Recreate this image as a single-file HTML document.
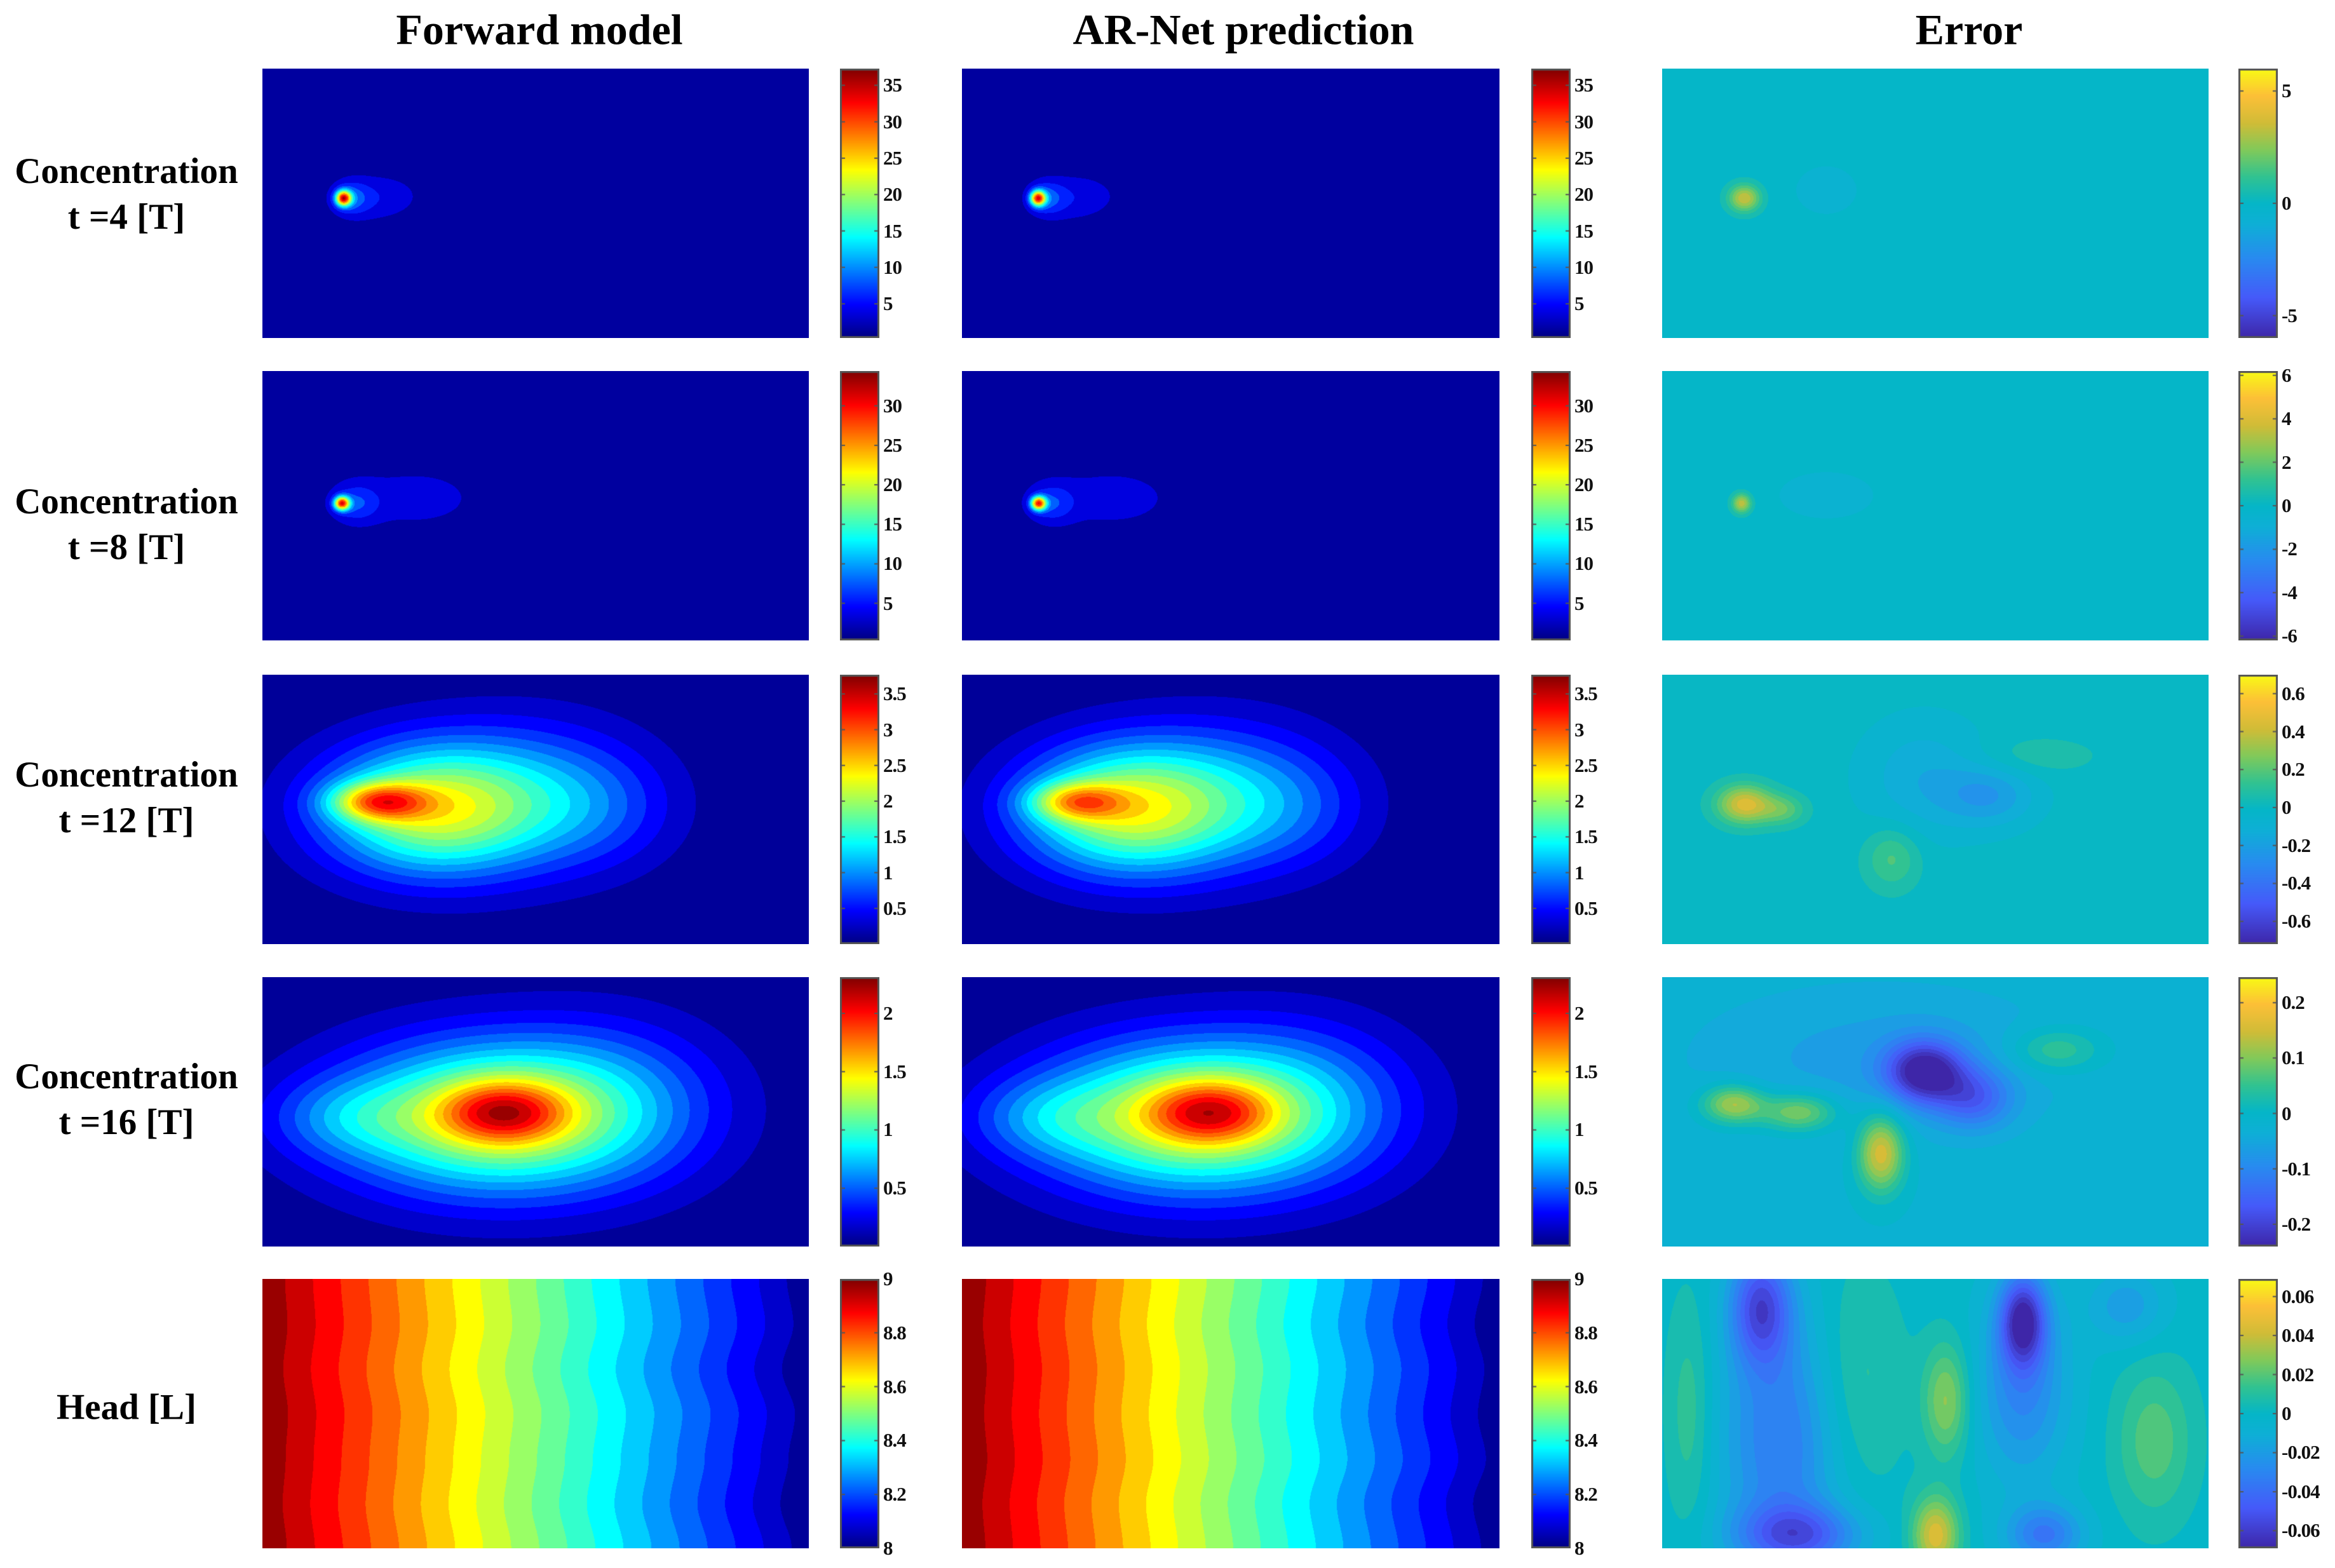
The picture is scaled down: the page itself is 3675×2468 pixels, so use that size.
<!DOCTYPE html>
<html><head><meta charset="utf-8">
<style>
html,body{margin:0;padding:0;background:#fff;}
#fig{position:relative;width:3675px;height:2468px;overflow:hidden;background:#fff;font-family:"Liberation Serif",serif;}
.title{position:absolute;font-weight:bold;font-size:68px;transform:translate(-50%,-50%);white-space:nowrap;color:#000;}
.rowlab{position:absolute;font-weight:bold;font-size:57px;transform:translate(-50%,-50%);white-space:nowrap;color:#000;text-align:center;}
canvas{position:absolute;}
.tick{position:absolute;font-size:31px;font-weight:bold;color:#111;transform:translateY(-50%);white-space:nowrap;letter-spacing:-1px;}
</style></head>
<body>
<div id="fig">
<div class="title" style="left:849px;top:47px">Forward model</div>
<div class="title" style="left:1957px;top:47px">AR-Net prediction</div>
<div class="title" style="left:3099px;top:47px">Error</div>
<div class="rowlab" style="left:199px;top:306px;line-height:72px">Concentration<br>t =4 [T]</div>
<div class="rowlab" style="left:199px;top:826px;line-height:72px">Concentration<br>t =8 [T]</div>
<div class="rowlab" style="left:199px;top:1256px;line-height:72px">Concentration<br>t =12 [T]</div>
<div class="rowlab" style="left:199px;top:1731px;line-height:72px">Concentration<br>t =16 [T]</div>
<div class="rowlab" style="left:199px;top:2215px">Head [L]</div>
</div>
<script>
// ---- data: blobs [x, y, sx, sy, amplitude] in normalized domain ----
const fwd4 = [[0.148,0.48,0.01,0.02,28],[0.16,0.48,0.025,0.045,6],[0.2,0.48,0.05,0.07,3],[0.25,0.47,0.05,0.06,1.5]];
const pred4 = [[0.141,0.48,0.01,0.02,27],[0.155,0.48,0.025,0.045,6],[0.2,0.48,0.05,0.07,3],[0.25,0.47,0.05,0.06,1.5]];
const err4 = [[0.15,0.48,0.02,0.035,3.5],[0.3,0.45,0.05,0.08,-0.5]];
const fwd8 = [[0.145,0.49,0.01,0.018,26],[0.17,0.49,0.03,0.05,5],[0.24,0.47,0.1,0.1,2.2],[0.33,0.47,0.08,0.09,1.2]];
const pred8 = [[0.142,0.49,0.01,0.018,25],[0.165,0.49,0.03,0.05,5],[0.24,0.47,0.1,0.1,2.2],[0.33,0.47,0.08,0.09,1.2]];
const err8 = [[0.145,0.49,0.012,0.025,3.5],[0.3,0.46,0.08,0.08,-0.5]];
const fwd12 = [[0.21,0.47,0.06,0.05,1.6],[0.3,0.5,0.14,0.17,2.0],[0.5,0.45,0.15,0.2,0.8],[0.62,0.5,0.1,0.15,0.3]];
const pred12 = [[0.21,0.47,0.06,0.05,1.3],[0.3,0.5,0.14,0.17,2.0],[0.5,0.45,0.15,0.2,0.8],[0.62,0.5,0.1,0.15,0.3]];
const err12 = [[0.15,0.48,0.035,0.05,0.45],[0.22,0.5,0.03,0.04,0.2],[0.48,0.38,0.08,0.15,-0.15],[0.6,0.45,0.06,0.08,-0.2],[0.42,0.68,0.035,0.08,0.18],[0.68,0.3,0.08,0.05,0.08]];
const fwd16 = [[0.44,0.5,0.08,0.08,0.8],[0.42,0.52,0.2,0.2,1.35],[0.65,0.45,0.15,0.22,0.3],[0.15,0.52,0.1,0.1,0.3]];
const pred16 = [[0.46,0.5,0.08,0.08,0.75],[0.42,0.52,0.2,0.2,1.35],[0.65,0.45,0.15,0.22,0.3],[0.15,0.52,0.1,0.1,0.3]];
const err16 = [[0.13,0.47,0.04,0.05,0.15],[0.25,0.5,0.05,0.05,0.13],[0.4,0.65,0.03,0.1,0.18],[0.48,0.35,0.05,0.08,-0.22],[0.57,0.45,0.05,0.08,-0.12],[0.72,0.27,0.06,0.06,0.08],[0.4,0.3,0.25,0.2,-0.05]];
const errHead = [[0.18,0.1,0.04,0.15,-0.05],[0.66,0.15,0.03,0.12,-0.06],[0.66,0.4,0.06,0.25,-0.03],[0.35,0.4,0.06,0.3,0.015],[0.52,0.45,0.03,0.15,0.03],[0.5,0.95,0.03,0.1,0.045],[0.22,0.6,0.08,0.35,-0.035],[0.9,0.6,0.05,0.2,0.02],[0.25,0.95,0.08,0.08,-0.04],[0.7,0.95,0.05,0.08,-0.035],[0.05,0.5,0.03,0.3,0.015],[0.85,0.1,0.05,0.1,-0.02]];
const headWiggleFwd = [0.0,0.008,-0.006,0.01,0.002,-0.008,0.006];
const headWigglePred = [0.006,-0.004,0.008,0.0,0.01,-0.006,0.004];
// ---- colorbar ranges & tick labels ----
const rangeRows = [[0.3,37.3],[0.3,34.4],[0.0,3.77],[0.0,2.31],[8,9]];
const errRangeRows = [[-6,6],[-6.2,6.2],[-0.72,0.70],[-0.24,0.246],[-0.069,0.069]];
const tickRows = [[5,10,15,20,25,30,35],[5,10,15,20,25,30],[0.5,1,1.5,2,2.5,3,3.5],[0.5,1,1.5,2],[8,8.2,8.4,8.6,8.8,9]];
const errTickRows = [[-5,0,5],[-6,-4,-2,0,2,4,6],[-0.6,-0.4,-0.2,0,0.2,0.4,0.6],[-0.2,-0.1,0,0.1,0.2],[-0.06,-0.04,-0.02,0,0.02,0.04,0.06]];

// ---- layout ----
const colX=[413,1514,2616], panelW=[860,846,860];
const cbX=[1322,2410,3523], cbW=62;
const rowY=[108,584,1062,1538,2013], panelH=424;

function jet(t){t=Math.max(0,Math.min(1,t));
 const f=(a)=>Math.max(0,Math.min(1,1.5-Math.abs(4*t-a)));
 return [f(3)*255,f(2)*255,f(1)*255];}
const parStops=[[0,[62,38,168]],[0.15,[70,90,250]],[0.3,[40,140,240]],[0.42,[15,175,215]],[0.5,[5,182,200]],[0.6,[50,195,145]],[0.7,[130,202,90]],[0.8,[210,188,55]],[0.9,[253,192,56]],[1,[249,251,21]]];
function parula(t){t=Math.max(0,Math.min(1,t));
 for(let i=1;i<parStops.length;i++){if(t<=parStops[i][0]){const a=parStops[i-1],b=parStops[i];const u=(t-a[0])/(b[0]-a[0]);return a[1].map((v,k)=>v+(b[1][k]-v)*u);}}
 return parStops[parStops.length-1][1];}
function blobField(blobs,base){return (x,y)=>{let v=base;for(const b of blobs){const dx=(x-b[0])/b[2],dy=(y-b[1])/b[3];v+=b[4]*Math.exp(-0.5*(dx*dx+dy*dy));}return v;};}
function headField(w){return (x,y)=>{const p=y*(w.length-1),i=Math.min(w.length-2,Math.floor(p)),u=p-i;const s=u*u*(3-2*u);const wig=w[i]*(1-s)+w[i+1]*s;return 9.0-(x*0.98+0.01)+wig*(0.5+x);};}
const fig=document.getElementById('fig');
function drawPanel(field,range,cmap,left,top,w,nLev,name,zeroCentered){
 const c=document.createElement('canvas');c.width=w;c.height=panelH;
 c.style.left=left+'px';c.style.top=top+'px';
 
 
 const ctx=c.getContext('2d');const im=ctx.createImageData(w,panelH);
 const span=range[1]-range[0];
 const z=(0-range[0])/span;
 for(let j=0;j<panelH;j++)for(let i=0;i<w;i++){
  let t=(field(i/w,j/panelH)-range[0])/span;
  t=Math.max(0,Math.min(0.9999,t));
  if(zeroCentered){const q=Math.round((t-z)*nLev);t=z+q/nLev;}
  else t=(Math.floor(t*nLev)+0.5)/nLev;
  const col=cmap(t);const k=(j*w+i)*4;im.data[k]=col[0];im.data[k+1]=col[1];im.data[k+2]=col[2];im.data[k+3]=255;}
 ctx.putImageData(im,0,0);fig.appendChild(c);}
function drawColorbar(range,ticks,cmap,left,top,name){
 const c=document.createElement('canvas');c.width=cbW;c.height=panelH;
 c.style.left=left+'px';c.style.top=top+'px';
 
 
 const ctx=c.getContext('2d');
 for(let j=0;j<panelH;j++){const col=cmap(1-j/panelH);ctx.fillStyle=`rgb(${col[0]|0},${col[1]|0},${col[2]|0})`;ctx.fillRect(0,j,cbW,1);}
 ctx.strokeStyle='#555';ctx.lineWidth=3;ctx.strokeRect(1.5,1.5,cbW-3,panelH-3);
 const ys=v=>(range[1]-v)/(range[1]-range[0])*panelH;
 ctx.lineWidth=2;
 for(const t of ticks){const y=ys(t);ctx.beginPath();ctx.moveTo(cbW-8,y);ctx.lineTo(cbW,y);ctx.moveTo(0,y);ctx.lineTo(8,y);ctx.stroke();}
 fig.appendChild(c);
 for(const t of ticks){const d=document.createElement('div');d.className='tick';
  d.style.left=(left+cbW+6)+'px';d.style.top=(top+ys(t))+'px';
  d.textContent=(t<0?'-':'')+String(Math.abs(t));
  
  
  fig.appendChild(d);}}
const fwdSets=[fwd4,fwd8,fwd12,fwd16];
const predSets=[pred4,pred8,pred12,pred16];
const errSets=[err4,err8,err12,err16];
const rowNames=['t4','t8','t12','t16','head'];
for(let r=0;r<5;r++){
 const rng=rangeRows[r],er=errRangeRows[r];
 let f1,f2,f3;
 if(r<4){f1=blobField(fwdSets[r],rng[0]);f2=blobField(predSets[r],rng[0]);f3=blobField(errSets[r],r===3?-0.015:0);}
 else{f1=headField(headWiggleFwd);f2=headField(headWigglePred);f3=blobField(errHead,0);}
 const nl=r<2?16:20;
 drawPanel(f1,rng,jet,colX[0],rowY[r],panelW[0],nl,'forward-model-'+rowNames[r],false);
 drawPanel(f2,rng,jet,colX[1],rowY[r],panelW[1],nl,'ar-net-prediction-'+rowNames[r],false);
 drawPanel(f3,er,parula,colX[2],rowY[r],panelW[2],22,'error-'+rowNames[r],true);
 drawColorbar(rng,tickRows[r],jet,cbX[0],rowY[r],'forward-colorbar-'+rowNames[r]);
 drawColorbar(rng,tickRows[r],jet,cbX[1],rowY[r],'prediction-colorbar-'+rowNames[r]);
 drawColorbar(er,errTickRows[r],parula,cbX[2],rowY[r],'error-colorbar-'+rowNames[r]);
}
</script>
</body></html>
